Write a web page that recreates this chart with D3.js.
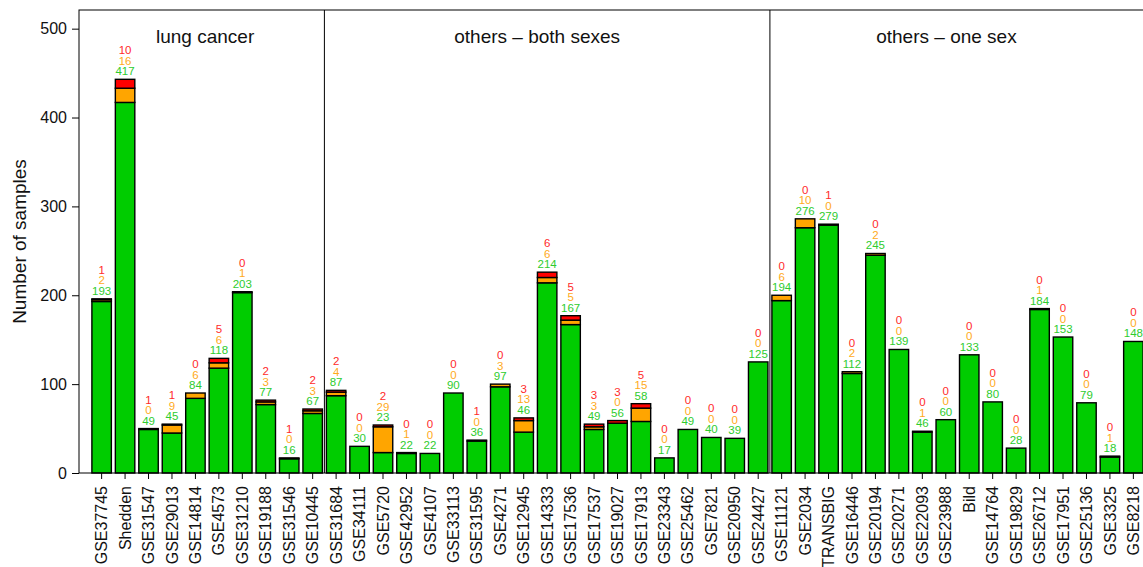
<!DOCTYPE html>
<meta charset="utf-8">
<style>
  body { margin: 0; background: #fff; }
  text { font-family: "Liberation Sans", Arial, sans-serif; }
</style>
<script src="https://d3js.org/d3.v7.min.js"></script>
<div id="chart"></div>
<script>

// data
var datasets = ["GSE37745","Shedden","GSE31547","GSE29013","GSE14814","GSE4573","GSE31210","GSE19188","GSE31546","GSE10445",
  "GSE31684","GSE34111","GSE5720","GSE42952","GSE4107","GSE33113","GSE31595","GSE4271","GSE12945","GSE14333",
  "GSE17536","GSE17537","GSE19027","GSE17913","GSE23343","GSE25462","GSE7821","GSE20950","GSE24427",
  "GSE11121","GSE2034","TRANSBIG","GSE16446","GSE20194","GSE20271","GSE22093","GSE23988","Bild","GSE14764",
  "GSE19829","GSE26712","GSE17951","GSE25136","GSE3325","GSE8218"];
var greenVals = [193,417,49,45,84,118,203,77,16,67,
  87,30,23,22,22,90,36,97,46,214,167,49,56,58,17,49,40,39,125,
  194,276,279,112,245,139,46,60,133,80,28,184,153,79,18,148];
var orangeVals = [2,16,0,9,6,6,1,3,0,3,
  4,0,29,1,0,0,0,3,13,6,5,3,0,15,0,0,0,0,0,
  6,10,0,2,2,0,1,0,0,0,0,1,0,0,1,0];
var redVals = [1,10,1,1,0,5,0,2,1,2,
  2,0,2,0,0,0,1,0,3,6,5,3,3,5,0,0,0,0,0,
  0,0,1,0,0,0,0,0,0,0,0,0,0,0,0,0];
var groups = ["lung cancer", "others \u2013 both sexes", "others \u2013 one sex"];
var groupSizes = [10, 19, 16];
var yTicks = [0, 100, 200, 300, 400, 500];

var width = 1143, height = 567;
var plotLeft = 79, plotTop = 10, plotBottom = 473, plotRight = 1156;

var svg = d3.select("#chart").append("svg")
  .attr("width", width).attr("height", height);

var x = d3.scaleBand()
  .domain(datasets)
  .range([plotLeft, plotRight])
  .paddingInner(0.17)
  .paddingOuter(0.55);

var y = d3.scaleLinear()
  .domain([0, 521])
  .range([plotBottom, plotTop]);

var colors = ["#00cc00", "#ffa500", "#ff0000"];
var textColors = ["#2ecc2e", "#ffaa1a", "#ff2a2a"];

var rows = datasets.map(function(d, i) {
  return {name: d, vals: [greenVals[i], orangeVals[i], redVals[i]]};
});
var stack = d3.stack().keys([0, 1, 2]).value(function(d, k) { return d.vals[k]; });
var series = stack(rows);

// bars
svg.append("g").selectAll("g")
  .data(series)
  .enter().append("g")
    .attr("fill", function(d, i) { return colors[i]; })
  .selectAll("rect")
  .data(function(d) { return d; })
  .enter().append("rect")
    .attr("x", function(d) { return x(d.data.name); })
    .attr("width", x.bandwidth())
    .attr("y", function(d) { return y(d[1]); })
    .attr("height", function(d) { return y(d[0]) - y(d[1]); })
    .attr("stroke", "#000")
    .attr("stroke-width", 1.4);

// count labels
var lab = svg.append("g").attr("text-anchor", "middle").attr("font-size", "11.5px");
rows.forEach(function(r) {
  var total = r.vals[0] + r.vals[1] + r.vals[2];
  var cx = x(r.name) + x.bandwidth() / 2;
  [0, 1, 2].forEach(function(k) {
    lab.append("text")
      .attr("x", cx)
      .attr("y", y(total) - 4 - k * 10.5)
      .attr("fill", textColors[k])
      .text(r.vals[k]);
  });
});

// box
svg.append("rect")
  .attr("x", plotLeft).attr("y", plotTop)
  .attr("width", plotRight - plotLeft).attr("height", plotBottom - plotTop)
  .attr("fill", "none").attr("stroke", "#000").attr("stroke-width", 1);

// group separators and titles
var start = 0;
groups.forEach(function(g, gi) {
  var first = datasets[start], last = datasets[start + groupSizes[gi] - 1];
  var x0 = gi === 0 ? plotLeft : x(first) - x.step() * x.paddingInner() / 2;
  var x1 = x(last) + x.bandwidth() + x.step() * x.paddingInner() / 2;
  if (gi === groups.length - 1) x1 = width;
  if (gi > 0) {
    svg.append("line")
      .attr("x1", x0).attr("x2", x0)
      .attr("y1", plotTop).attr("y2", plotBottom)
      .attr("stroke", "#000").attr("stroke-width", 1);
  }
  svg.append("text")
    .attr("x", gi === 0 ? (x(first) + x1) / 2 - 3 : (x0 + x1) / 2 - 10)
    .attr("y", 43)
    .attr("text-anchor", "middle")
    .attr("font-size", "19px")
    .attr("fill", "#111")
    .text(g);
  start += groupSizes[gi];
});

// y axis
var yAxis = svg.append("g")
  .attr("transform", "translate(" + plotLeft + ",0)")
  .call(d3.axisLeft(y).tickValues(yTicks).tickSize(7).tickPadding(5));
yAxis.select(".domain").remove();
yAxis.selectAll("text").attr("font-size", "16px").attr("fill", "#111")
  .style("font-family", "'Liberation Sans', Arial, sans-serif");

svg.append("text")
  .attr("transform", "translate(26," + ((plotTop + plotBottom) / 2) + ") rotate(-90)")
  .attr("text-anchor", "middle")
  .attr("font-size", "19px")
  .attr("fill", "#111")
  .text("Number of samples");

// x axis
var xAxis = svg.append("g")
  .attr("transform", "translate(0," + plotBottom + ")")
  .call(d3.axisBottom(x).tickSize(6).tickPadding(0));
xAxis.select(".domain").remove();
xAxis.selectAll("text")
  .attr("font-size", "16px")
  .attr("fill", "#111")
  .style("font-family", "'Liberation Sans', Arial, sans-serif")
  .attr("text-anchor", "end")
  .attr("transform", "rotate(-90)")
  .attr("x", -13)
  .attr("y", 0)
  .attr("dy", "0.35em");

</script>
